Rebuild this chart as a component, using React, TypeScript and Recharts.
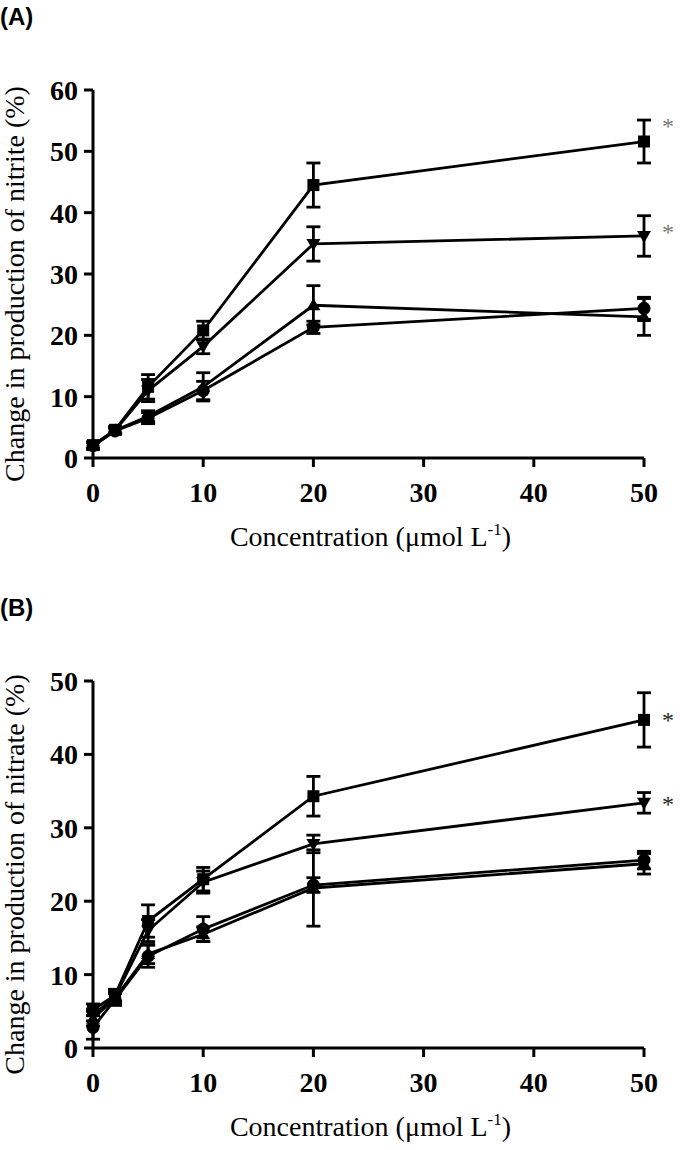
import React from 'react';
import { ComposedChart, Line, XAxis, YAxis, ErrorBar } from 'recharts';

const concentrations = [0, 2, 5, 10, 20, 50];
const xTicks = [0, 10, 20, 30, 40, 50];
const nitriteTicks = [0, 10, 20, 30, 40, 50, 60];
const nitrateTicks = [0, 10, 20, 30, 40, 50];

// (A) nitrite, % change
const nitriteSquare = [2.1, 4.6, 11.6, 20.8, 44.5, 51.6];
const nitriteSquareErr = [0.5, 0.5, 2.0, 1.5, 3.6, 3.5];
const nitriteDown = [2.0, 4.5, 11.0, 18.2, 34.9, 36.2];
const nitriteDownErr = [0.5, 0.5, 1.8, 1.2, 2.8, 3.3];
const nitriteUp = [2.0, 4.5, 6.8, 11.6, 24.9, 23.0];
const nitriteUpErr = [0.5, 0.5, 0.9, 2.3, 3.2, 3.0];
const nitriteCircle = [2.0, 4.4, 6.5, 11.0, 21.3, 24.4];
const nitriteCircleErr = [0.5, 0.5, 0.9, 1.5, 1.0, 1.8];
const nitriteStarSquare = [null, null, null, null, null, 55.0];
const nitriteStarDown = [null, null, null, null, null, 37.6];

// (B) nitrate, % change
const nitrateSquare = [5.2, 7.2, 17.3, 23.0, 34.3, 44.7];
const nitrateSquareErr = [0.8, 0.8, 2.2, 1.6, 2.7, 3.7];
const nitrateDown = [4.5, 7.0, 16.0, 22.6, 27.8, 33.4];
const nitrateDownErr = [0.8, 0.7, 1.5, 1.5, 1.2, 1.4];
const nitrateUp = [4.0, 6.8, 12.8, 15.5, 21.8, 25.1];
const nitrateUpErr = [1.0, 0.8, 1.3, 1.0, 5.2, 1.4];
const nitrateCircle = [2.8, 6.6, 12.5, 16.2, 22.2, 25.6];
const nitrateCircleErr = [1.6, 0.8, 1.5, 1.7, 1.0, 1.2];
const nitrateStarSquare = [null, null, null, null, null, 45.4];
const nitrateStarDown = [null, null, null, null, null, 33.9];

const serif = '"Liberation Serif", "Times New Roman", serif';
const sans = '"Liberation Sans", Arial, sans-serif';

type Shape = 'square' | 'down' | 'up' | 'circle';
const shapes: Shape[] = ['circle', 'up', 'down', 'square'];

const buildRows = (vals: number[][], errs: number[][], stars: (number | null)[][]) =>
  concentrations.map((c, i) => {
    const row: Record<string, number | null> = { x: c };
    vals.forEach((v, k) => {
      row[`s${k}`] = v[i];
      row[`e${k}`] = errs[k][i];
    });
    stars.forEach((s, k) => {
      row[`star${k}`] = s[i];
    });
    return row;
  });

const nitriteRows = buildRows(
  [nitriteCircle, nitriteUp, nitriteDown, nitriteSquare],
  [nitriteCircleErr, nitriteUpErr, nitriteDownErr, nitriteSquareErr],
  [nitriteStarSquare, nitriteStarDown]
);
const nitrateRows = buildRows(
  [nitrateCircle, nitrateUp, nitrateDown, nitrateSquare],
  [nitrateCircleErr, nitrateUpErr, nitrateDownErr, nitrateSquareErr],
  [nitrateStarSquare, nitrateStarDown]
);

const makeDot = (shape: Shape) => (props: any) => {
  const { cx, cy, index } = props;
  if (cx == null || cy == null || isNaN(cy)) return <g key={index} />;
  if (shape === 'square')
    return <rect key={index} x={cx - 6} y={cy - 6} width={12} height={12} fill="#000" />;
  if (shape === 'circle') return <circle key={index} cx={cx} cy={cy} r={6.5} fill="#000" />;
  const pts =
    shape === 'down'
      ? `${cx - 7},${cy - 5} ${cx + 7},${cy - 5} ${cx},${cy + 7}`
      : `${cx - 7},${cy + 5} ${cx + 7},${cy + 5} ${cx},${cy - 7}`;
  return <polygon key={index} points={pts} fill="#000" />;
};

const makeStar = (color: string) => (props: any) => {
  const { cx, cy, index, value } = props;
  if (value == null || cy == null || isNaN(cy)) return <g key={index} />;
  return (
    <text key={index} x={cx + 24} y={cy + 13} textAnchor="middle" fontFamily={serif} fontSize={24} fill={color}>
      *
    </text>
  );
};

const YTitle = ({ viewBox, text }: any) => {
  const cx = 24;
  const cy = viewBox.y + viewBox.height / 2 + 10;
  return (
    <text x={cx} y={cy} transform={`rotate(-90, ${cx}, ${cy})`} textAnchor="middle" fontFamily={serif} fontSize={28} fill="#000">
      {text}
    </text>
  );
};

const XTitle = ({ viewBox }: any) => {
  const cx = viewBox.x + viewBox.width / 2 + 2;
  const cy = viewBox.y + 88;
  return (
    <text x={cx} y={cy} textAnchor="middle" fontFamily={serif} fontSize={28} fill="#000">
      Concentration (μmol L
      <tspan dy={-11} fontSize={17}>-1</tspan>
      <tspan dy={11}>)</tspan>
    </text>
  );
};

const tickStyle = { fontFamily: serif, fontSize: 28, fontWeight: 'bold' as const, fill: '#000' };

function Panel({ tag, rows, yMax, yTicks, yTitle, height, bottom, starColor }: any) {
  return (
    <div style={{ position: 'relative', width: 680, height }}>
      <div style={{ position: 'absolute', left: 0, top: 2, fontFamily: sans, fontWeight: 'bold', fontSize: 24, lineHeight: '30px' }}>
        {tag}
      </div>
      <ComposedChart width={680} height={height} data={rows} margin={{ top: 90, right: 36, left: 0, bottom }}>
        <XAxis
          dataKey="x"
          type="number"
          domain={[0, 50]}
          ticks={xTicks}
          height={80}
          tick={tickStyle}
          tickSize={9}
          tickMargin={15}
          axisLine={{ stroke: '#000', strokeWidth: 3 }}
          tickLine={{ stroke: '#000', strokeWidth: 3 }}
          label={<XTitle />}
        />
        <YAxis
          type="number"
          domain={[0, yMax]}
          ticks={yTicks}
          allowDataOverflow
          width={93}
          tick={tickStyle}
          tickSize={9}
          tickMargin={6}
          axisLine={{ stroke: '#000', strokeWidth: 3 }}
          tickLine={{ stroke: '#000', strokeWidth: 3 }}
          label={<YTitle text={yTitle} />}
        />
        {shapes.map((shape, k) => (
          <Line
            key={shape}
            dataKey={`s${k}`}
            stroke="#000"
            strokeWidth={2.8}
            dot={makeDot(shape)}
            activeDot={false}
            isAnimationActive={false}
          >
            <ErrorBar dataKey={`e${k}`} width={7} strokeWidth={2.8} stroke="#000" direction="y" />
          </Line>
        ))}
        {[0, 1].map((k) => (
          <Line
            key={`star${k}`}
            dataKey={`star${k}`}
            stroke="none"
            dot={makeStar(starColor)}
            activeDot={false}
            isAnimationActive={false}
          />
        ))}
      </ComposedChart>
    </div>
  );
}

export default function App() {
  return (
    <div style={{ position: 'absolute', left: 0, top: 0, width: 680, height: 1150, background: '#fff' }}>
      <Panel
        tag="(A)"
        rows={nitriteRows}
        yMax={60}
        yTicks={nitriteTicks}
        yTitle="Change in production of nitrite (%)"
        height={591}
        bottom={53}
        starColor="#777"
      />
      <Panel
        tag="(B)"
        rows={nitrateRows}
        yMax={50}
        yTicks={nitrateTicks}
        yTitle="Change in production of nitrate (%)"
        height={559}
        bottom={22}
        starColor="#222"
      />
    </div>
  );
}
